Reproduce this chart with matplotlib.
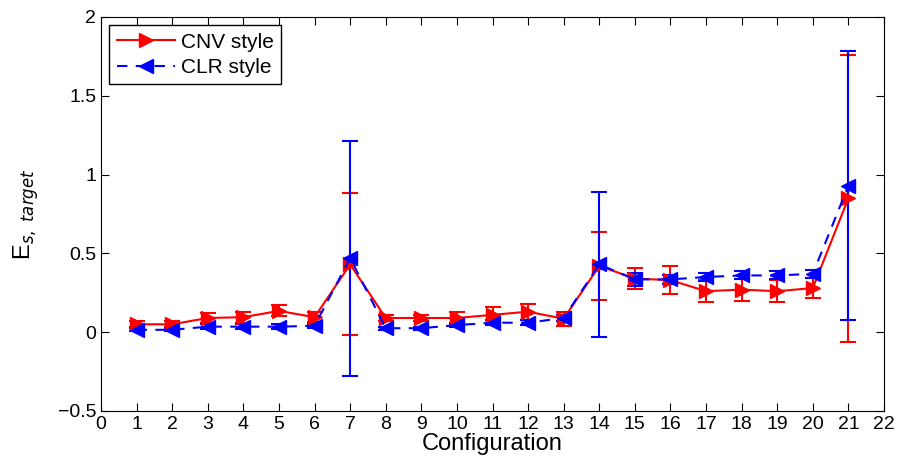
import numpy as np
import matplotlib.pyplot as plt
from matplotlib.lines import Line2D

plt.rcParams['font.family'] = ['Liberation Sans', 'DejaVu Sans']

config = np.arange(1, 22)

cnv_mean = [0.05, 0.05, 0.09, 0.095, 0.135, 0.095, 0.43, 0.09, 0.09, 0.09, 0.11,
            0.13, 0.085, 0.42, 0.34, 0.33, 0.26, 0.27, 0.26, 0.28, 0.85]
cnv_err = [0.02, 0.02, 0.03, 0.035, 0.035, 0.03, 0.45, 0.02, 0.02, 0.04, 0.05,
           0.05, 0.045, 0.215, 0.065, 0.09, 0.07, 0.07, 0.07, 0.065, 0.91]

clr_mean = [0.015, 0.015, 0.035, 0.035, 0.035, 0.04, 0.47, 0.025, 0.025, 0.045, 0.06,
            0.06, 0.09, 0.43, 0.335, 0.335, 0.35, 0.36, 0.36, 0.37, 0.93]
clr_err = [0.01, 0.01, 0.015, 0.015, 0.015, 0.015, 0.745, 0.01, 0.01, 0.015, 0.015,
           0.015, 0.02, 0.46, 0.04, 0.03, 0.025, 0.025, 0.025, 0.025, 0.855]

fig = plt.figure(figsize=(9.06, 4.67), dpi=100)
ax = fig.add_axes([0.1115, 0.12, 0.8642, 0.8436])

ax.errorbar(config, cnv_mean, yerr=cnv_err, color='red', marker='>', markersize=10,
            linestyle='-', linewidth=1.5, capsize=6, elinewidth=1.5, capthick=1.5)
ax.errorbar(config, clr_mean, yerr=clr_err, color='blue', marker='<', markersize=10,
            linestyle='--', dashes=(5, 4), linewidth=1.5, capsize=6, elinewidth=1.5,
            capthick=1.5)

handles = [
    Line2D([], [], color='red', marker='>', markersize=10, linestyle='-', linewidth=1.5),
    Line2D([], [], color='blue', marker='<', markersize=10, linestyle='--',
           dashes=(5, 4), linewidth=1.5),
]

ax.set_xlim(0, 22)
ax.set_ylim(-0.5, 2)
ax.set_xticks(range(0, 23))
ax.set_yticks([-0.5, 0, 0.5, 1, 1.5, 2])
ax.set_yticklabels(['\u22120.5', '0', '0.5', '1', '1.5', '2'])
ax.tick_params(direction='in', top=True, right=True, labelsize=14, length=6)
ax.set_xlabel('Configuration', fontsize=17, labelpad=0)
ax.set_ylabel(r'E$_{s,\ \mathit{target}}$', fontsize=17, labelpad=12)

leg = ax.legend(handles, ['CNV style', 'CLR style'], loc='upper left', fontsize=15,
                fancybox=False, edgecolor='black', framealpha=1, handlelength=2.8,
                borderaxespad=0.4, handletextpad=0.3, borderpad=0.35, labelspacing=0.3)
leg.get_frame().set_linewidth(1.0)

fig.savefig('out.png', dpi=100)
